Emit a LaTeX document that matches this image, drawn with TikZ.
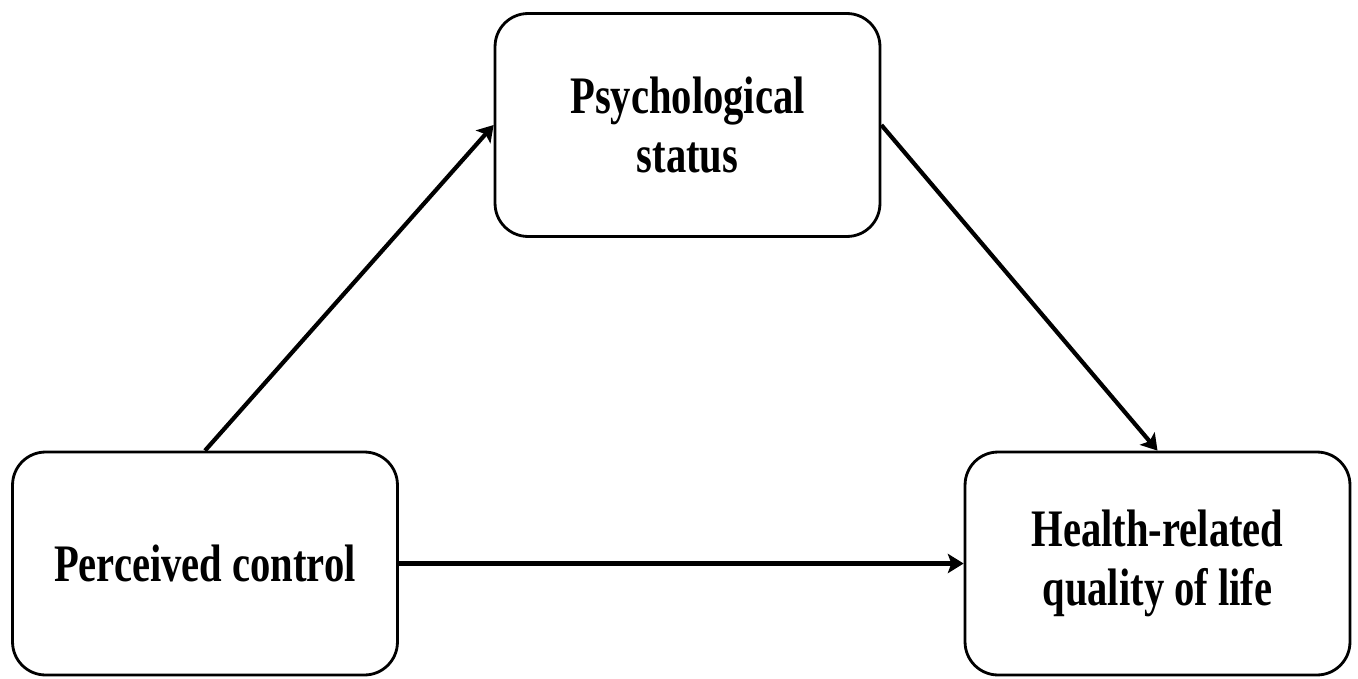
\documentclass[tikz,border=0pt]{standalone}
\usepackage{fontspec}
\setmainfont{Liberation Serif}[FakeStretch=0.77]
\usetikzlibrary{arrows.meta}

\begin{document}
\begin{tikzpicture}[x=0.02cm, y=-0.02cm,
  box/.style={draw, line width=1.6pt, rounded corners=0.66cm, minimum width=7.7cm, minimum height=4.46cm, align=center, font=\fontsize{30}{34}\selectfont\bfseries},
  link/.style={line width=2.4pt, -{Stealth[length=9pt,width=11pt,inset=2pt]}}]
\useasboundingbox (0,0) rectangle (1358,679);

\node[box] (psych) at (687.5,125) {Psychological\\status};
\node[box] (control) at (205,563.5) {Perceived control};
\node[box] (hrqol) at (1157.5,563.5) {Health-related\\quality of life};

\draw[link] (control.north) -- (psych.west);
\draw[link] (psych.east) -- (hrqol.north);
\draw[link] (control.east) -- (hrqol.west);
\end{tikzpicture}
\end{document}
